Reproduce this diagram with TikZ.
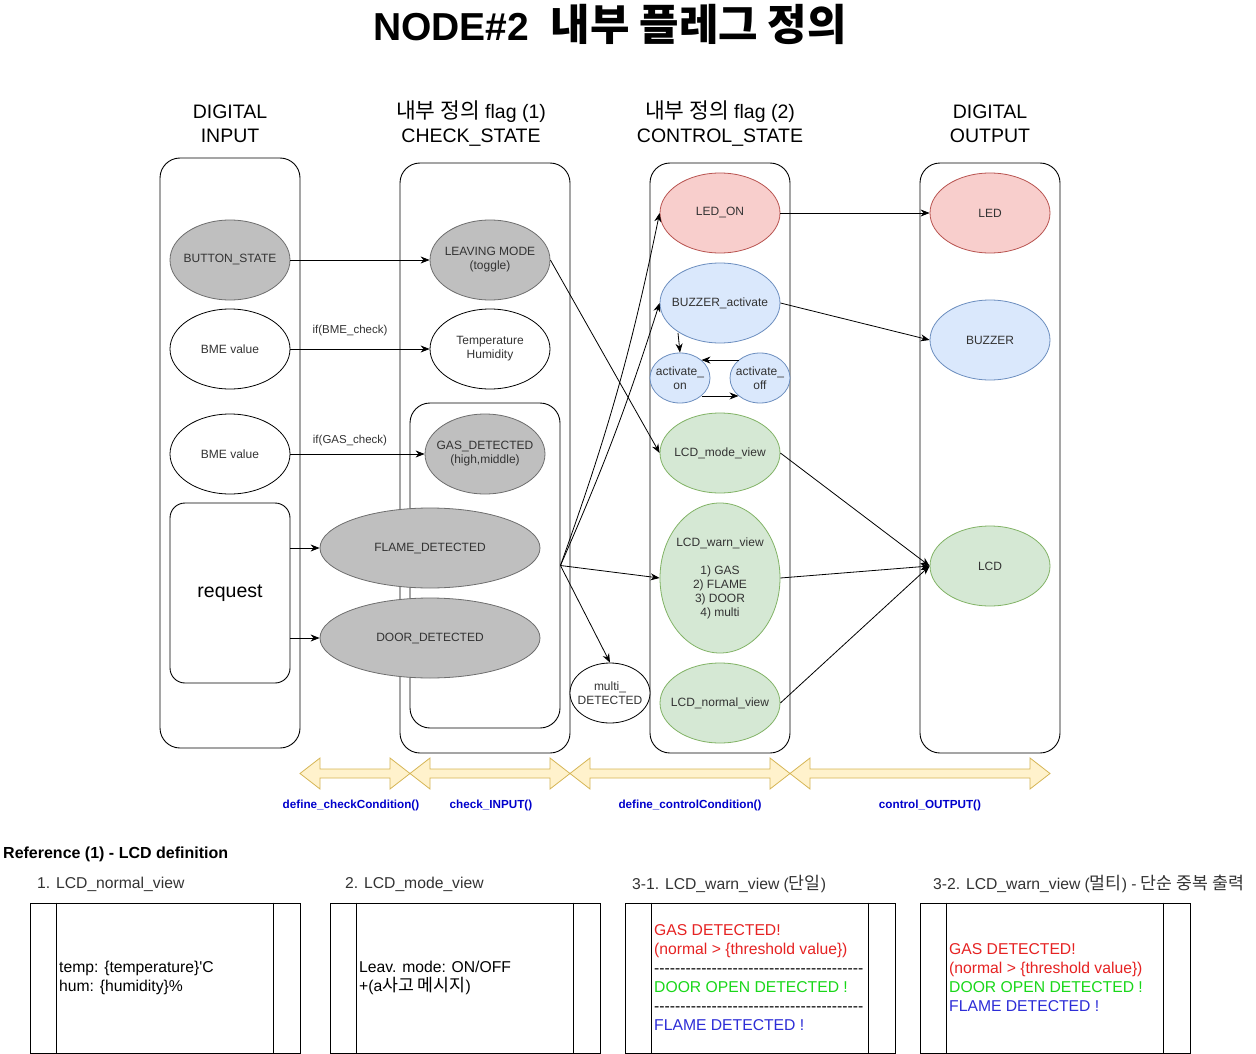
\documentclass[tikz,border=0pt]{standalone}
\usepackage{fontspec}
\setmainfont{Liberation Sans}
\newfontfamily\kr[Scale=1.1]{Noto Sans CJK KR}
\newfontfamily\plainfont[Ligatures=ResetAll]{Liberation Sans}
\usetikzlibrary{shapes.geometric,arrows.meta}

\definecolor{grayfill}{RGB}{191,191,191}
\definecolor{graystroke}{RGB}{110,110,110}
\definecolor{txt}{RGB}{51,51,51}
\definecolor{redfill}{RGB}{248,206,204}
\definecolor{redstroke}{RGB}{184,84,80}
\definecolor{bluefill}{RGB}{218,232,252}
\definecolor{bluestroke}{RGB}{108,142,191}
\definecolor{greenfill}{RGB}{213,232,212}
\definecolor{greenstroke}{RGB}{130,179,102}
\definecolor{yfill}{RGB}{255,242,204}
\definecolor{ystroke}{RGB}{214,182,86}
\definecolor{fnblue}{RGB}{0,0,204}
\definecolor{lred}{RGB}{230,35,35}
\definecolor{lgreen}{RGB}{25,215,25}
\definecolor{lblue}{RGB}{45,45,215}

\newcommand\myNodeFont{\fontsize{12}{14}\selectfont}
\newcommand\myHdrFont{\fontsize{19.5}{24}\selectfont}
\newcommand\myRefFont{\fontsize{15.7}{19}\selectfont}
\newcommand\myDashes{-{}-{}-{}-{}-{}-{}-{}-{}-{}-{}-{}-{}-{}-{}-{}-{}-{}-{}-{}-{}-{}-{}-{}-{}-{}-{}-{}-{}-{}-{}-{}-{}-{}-{}-{}-{}-{}-{}-{}-{}}
\newcommand\myDblArrow[4]{%
  \draw[yarrow] (#1,773.5) -- ({#1+20},758) -- ({#1+20},769) -- ({#2-20},769) -- ({#2-20},758)
    -- (#2,773.5) -- ({#2-20},789) -- ({#2-20},778) -- ({#1+20},778) -- ({#1+20},789) -- cycle;
  \node[fnlabel] at (#3,805) {#4};}

\tikzset{
  lane/.style={draw=black, line width=0.9pt, rounded corners=20pt, inner sep=0pt},
  ell/.style={ellipse, draw, line width=0.8pt, inner xsep=-22pt, inner ysep=0pt, minimum width=120pt,
    minimum height=80pt, text=txt, font=\myNodeFont, align=center},
  whiteell/.style={ell, draw=black, fill=white},
  grayell/.style={ell, fill=grayfill, draw=graystroke},
  redell/.style={ell, fill=redfill, draw=redstroke},
  blueell/.style={ell, fill=bluefill, draw=bluestroke},
  greenell/.style={ell, fill=greenfill, draw=greenstroke},
  conn/.style={-{Stealth[length=9pt,width=7pt]}, line width=0.8pt},
  hdr/.style={font=\myHdrFont, align=center},
  elabel/.style={font=\fontsize{11.5}{13}\selectfont, text=txt},
  yarrow/.style={fill=yfill, draw=ystroke, line width=0.8pt, line join=miter},
  fnlabel/.style={font=\fontsize{11.7}{13}\selectfont\bfseries, text=fnblue},
  lcdbox/.style={draw=black, line width=0.9pt, minimum width=270pt, minimum height=150pt, inner sep=0pt},
  lcdtext/.style={font=\myRefFont, align=left, anchor=west, inner sep=0pt},
}

\begin{document}
\begin{tikzpicture}[x=1pt,y=-1pt]
\useasboundingbox[fill=white] (0,0) rectangle (1256,1054);

% title
\node (title) at (610,24) {\fontsize{39}{42}\selectfont\bfseries NODE\#2\ \ {\kr 내부 플레그 정의}};

% headers
\node[hdr] (h1) at (230,124) {DIGITAL\\INPUT};
\node[hdr] (h2) at (471,124) {{\kr 내부 정의} flag (1)\\CHECK\_STATE};
\node[hdr] (h3) at (720,124) {{\kr 내부 정의} flag (2)\\CONTROL\_STATE};
\node[hdr] (h4) at (990,124) {DIGITAL\\OUTPUT};

% lanes
\node[lane, minimum width=140pt, minimum height=590pt] (lane1) at (230,453) {};
\node[lane, minimum width=170pt, minimum height=590pt] (lane2) at (485,458) {};
\node[lane, minimum width=150pt, minimum height=325pt] (inner) at (485,565.5) {};
\node[lane, minimum width=140pt, minimum height=590pt] (lane3) at (720,458) {};
\node[lane, minimum width=140pt, minimum height=590pt] (lane4) at (990,458) {};
\node[lane, rounded corners=15pt, minimum width=120pt, minimum height=180pt,
      font=\fontsize{19.5}{22}\selectfont] (request) at (230,593) {request};

% input column
\node[grayell] (button) at (230,260) {BUTTON\_STATE};
\node[whiteell] (bme1) at (230,349) {BME value};
\node[whiteell] (bme2) at (230,454) {BME value};

% check state column
\node[grayell] (leaving) at (490,260) {LEAVING MODE\\(toggle)};
\node[whiteell] (temp) at (490,349) {Temperature\\Humidity};
\node[grayell] (gas) at (485,454) {GAS\_DETECTED\\(high,middle)};
\node[grayell, minimum width=220pt] (flame) at (430,548) {FLAME\_DETECTED};
\node[grayell, minimum width=220pt] (door) at (430,638) {DOOR\_DETECTED};
\node[whiteell, minimum width=80pt, minimum height=60pt] (multi) at (610,693) {multi\_\\DETECTED};

% control state column
\node[redell] (ledon) at (720,213) {LED\_ON};
\node[blueell] (buzzact) at (720,303) {BUZZER\_activate};
\node[blueell, minimum width=60pt, minimum height=50pt] (acton) at (680,378) {activate\_\\on};
\node[blueell, minimum width=60pt, minimum height=50pt] (actoff) at (760,378) {activate\_\\off};
\node[greenell] (lcdmode) at (720,453) {LCD\_mode\_view};
\node[greenell, minimum height=150pt] (lcdwarn) at (720,578)
  {LCD\_warn\_view\\[14pt]1) GAS\\2) FLAME\\3) DOOR\\4) multi};
\node[greenell] (lcdnormal) at (720,703) {LCD\_normal\_view};

% output column
\node[redell] (led) at (990,213) {LED};
\node[blueell] (buzzer) at (990,340) {BUZZER};
\node[greenell] (lcd) at (990,566) {LCD};

% connectors
\draw[conn] (button.east) -- (leaving.west);
\draw[conn] (bme1.east) -- (temp.west);
\node[elabel] (lbl1) at (350,331) {if(BME\_check)};
\draw[conn] (bme2.east) -- (gas.west);
\node[elabel] (lbl2) at (350,441) {if(GAS\_check)};
\draw[conn] (request.east |- flame.west) -- (flame.west);
\draw[conn] (request.east |- door.west) -- (door.west);
\draw[conn] (leaving.east) -- (lcdmode.west);
\draw[conn] (inner.east) to[bend right=4] (ledon.west);
\draw[conn] (inner.east) to[bend right=3] (buzzact.west);
\draw[conn] (inner.east) -- (lcdwarn.west);
\draw[conn] (inner.east) -- (multi.north);
\draw[conn] (ledon.east) -- (led.west);
\draw[conn] (buzzact.east) -- (buzzer.west);
\coordinate (bzbot) at (678,333);
\draw[conn] (bzbot) -- (acton.north);
\draw[conn] (actoff.north west) -- (acton.north east);
\draw[conn] (acton.south east) -- (actoff.south west);
\draw[conn] (lcdmode.east) -- (lcd.west);
\draw[conn] (lcdwarn.east) -- (lcd.west);
\draw[conn] (lcdnormal.east) -- (lcd.west);

% function range arrows
\myDblArrow{300}{410}{351}{define\_checkCondition()}
\myDblArrow{410}{570}{491}{check\_INPUT()}
\myDblArrow{570}{790}{690}{define\_controlCondition()}
\myDblArrow{790}{1050}{930}{control\_OUTPUT()}

% reference section
\node[anchor=west, inner sep=0pt, font=\fontsize{16}{18}\selectfont\bfseries] (reftitle) at (3,854) {Reference (1) - LCD definition};
\node[anchor=west, inner sep=0pt, font=\myRefFont, text=txt] (r1) at (37,884) {1. LCD\_normal\_view};
\node[anchor=west, inner sep=0pt, font=\myRefFont, text=txt] (r2) at (345,884) {2. LCD\_mode\_view};
\node[anchor=west, inner sep=0pt, font=\myRefFont, text=txt] (r3) at (632,884) {3-1. LCD\_warn\_view ({\kr 단일})};
\node[anchor=west, inner sep=0pt, font=\myRefFont, text=txt] (r4) at (933,884) {3-2. LCD\_warn\_view ({\kr 멀티}) - {\kr 단순 중복 출력}};

\node[lcdbox] (b1) at (165,978) {};
\node[lcdbox] (b2) at (465,978) {};
\node[lcdbox] (b3) at (760,978) {};
\node[lcdbox] (b4) at (1055,978) {};
\foreach \b in {b1,b2,b3,b4}{
  \draw[line width=0.9pt] ([xshift=27pt]\b.north west) -- ([xshift=27pt]\b.south west);
  \draw[line width=0.9pt] ([xshift=-27pt]\b.north east) -- ([xshift=-27pt]\b.south east);
}

\node[lcdtext] (t1) at (59,978) {temp: \{temperature\}{\plainfont '}C\\hum: \{humidity\}\%};
\node[lcdtext] (t2) at (359,978) {Leav. mode: ON/OFF\\+(a{\kr 사고 메시지})};
\node[lcdtext] (t3) at (654,978) {\textcolor{lred}{GAS DETECTED!}\\\textcolor{lred}{(normal > \{threshold value\})}\\\myDashes\\\textcolor{lgreen}{DOOR OPEN DETECTED !}\\\myDashes\\\textcolor{lblue}{FLAME DETECTED !}};
\node[lcdtext] (t4) at (949,978) {\textcolor{lred}{GAS DETECTED!}\\\textcolor{lred}{(normal > \{threshold value\})}\\\textcolor{lgreen}{DOOR OPEN DETECTED !}\\\textcolor{lblue}{FLAME DETECTED !}};
\end{tikzpicture}
\end{document}
